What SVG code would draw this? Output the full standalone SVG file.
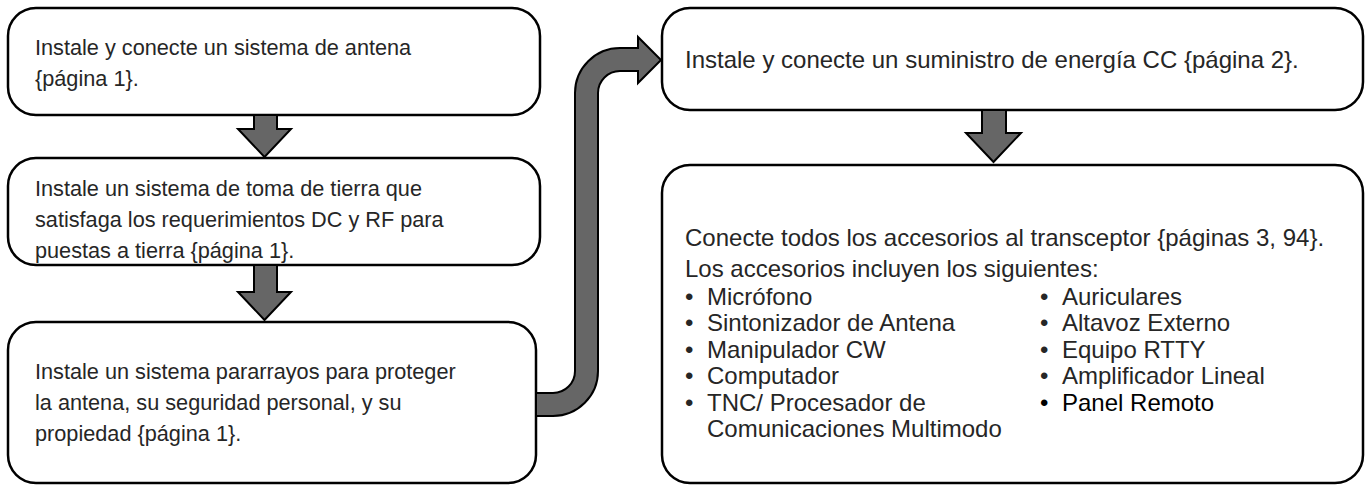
<svg xmlns="http://www.w3.org/2000/svg" width="1370" height="487" viewBox="0 0 1370 487">
<style>
.box{fill:#fff;stroke:#000;stroke-width:2.5}
.t{font-family:"Liberation Sans",Arial,sans-serif;font-size:21.7px;fill:#262626}
.r{font-family:"Liberation Sans",Arial,sans-serif;font-size:24px;fill:#262626}
.arr{fill:#666;stroke:#000;stroke-width:2;stroke-linejoin:miter}
</style>
<rect width="1370" height="487" fill="#fff"/>
<g id="n1">
<rect class="box" x="8" y="8" width="532" height="107" rx="28"/>
<text class="t" x="35" y="55">Instale y conecte un sistema de antena</text>
<text class="t" x="35" y="86">{página 1}.</text>
</g>
<g id="n2">
<rect class="box" x="8" y="158" width="532" height="107" rx="28"/>
<text class="t" x="35" y="196">Instale un sistema de toma de tierra que</text>
<text class="t" x="35" y="227">satisfaga los requerimientos DC y RF para</text>
<text class="t" x="35" y="258">puestas a tierra {página 1}.</text>
</g>
<g id="n3">
<rect class="box" x="8" y="322" width="528" height="161" rx="28"/>
<text class="t" x="35" y="379">Instale un sistema pararrayos para proteger</text>
<text class="t" x="35" y="410">la antena, su seguridad personal, y su</text>
<text class="t" x="35" y="441">propiedad {página 1}.</text>
</g>
<g id="n4">
<rect class="box" x="662" y="8" width="701" height="102" rx="28"/>
<text class="r" x="685" y="68">Instale y conecte un suministro de energía CC {página 2}.</text>
</g>
<g id="n5">
<rect class="box" x="662" y="165" width="701" height="318" rx="28"/>
<text class="r" x="685" y="246">Conecte todos los accesorios al transceptor {páginas 3, 94}.</text>
<text class="r" x="685" y="277">Los accesorios incluyen los siguientes:</text>
<g class="r">
<text x="685" y="305">•</text><text x="707" y="305">Micrófono</text>
<text x="685" y="331">•</text><text x="707" y="331">Sintonizador de Antena</text>
<text x="685" y="358">•</text><text x="707" y="358">Manipulador CW</text>
<text x="685" y="384">•</text><text x="707" y="384">Computador</text>
<text x="685" y="411">•</text><text x="707" y="411">TNC/ Procesador de</text>
<text x="707" y="437">Comunicaciones Multimodo</text>
<text x="1040" y="305">•</text><text x="1062" y="305">Auriculares</text>
<text x="1040" y="331">•</text><text x="1062" y="331">Altavoz Externo</text>
<text x="1040" y="358">•</text><text x="1062" y="358">Equipo RTTY</text>
<text x="1040" y="384">•</text><text x="1062" y="384">Amplificador Lineal</text>
<text x="1040" y="411" style="fill:#000">•</text><text x="1062" y="411" style="fill:#000">Panel Remoto</text>
</g>
</g>
<g id="connectors">
<path class="arr" d="M254,115 L277,115 L277,129 L291,129 L264.5,157 L238,129 L254,129 Z"/>
<path class="arr" d="M254,265 L277,265 L277,292 L291,292 L264.5,320 L238,292 L254,292 Z"/>
<path class="arr" d="M982,110 L1006,110 L1006,133 L1021,133 L993.5,162 L966,133 L982,133 Z"/>
<path class="arr" d="M536,393 L553,393 A22,22 0 0 0 575,371 L575,93 A45,45 0 0 1 620,48 L638,48 L638,37 L661,60 L638,83 L638,71 L620,71 A22,22 0 0 0 598,93 L598,371 A45,45 0 0 1 553,416 L536,416 Z"/>
</g>
</svg>
